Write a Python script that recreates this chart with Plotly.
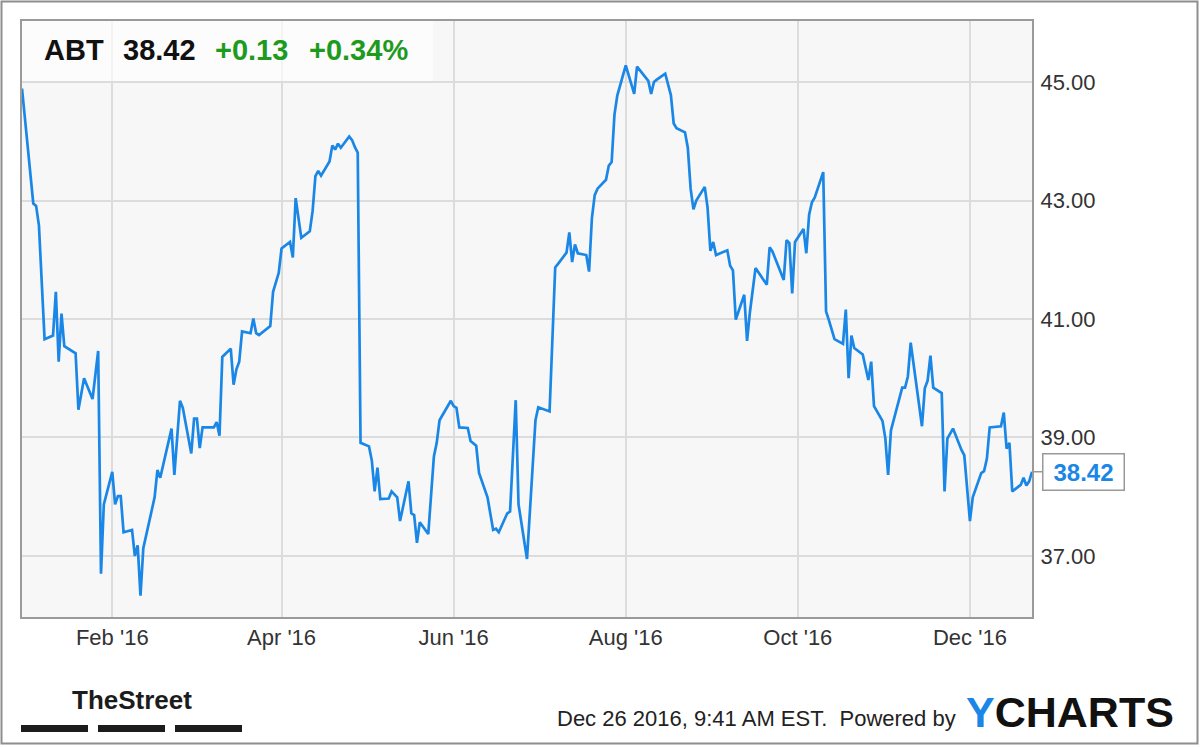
import plotly.graph_objects as go

# ---------------- data ----------------
dates = [
    "2015-12-31", "2016-01-04", "2016-01-05", "2016-01-06", "2016-01-08", "2016-01-11",
    "2016-01-12", "2016-01-13", "2016-01-14", "2016-01-15", "2016-01-19", "2016-01-20",
    "2016-01-22", "2016-01-25", "2016-01-27", "2016-01-28", "2016-01-29", "2016-02-01",
    "2016-02-02", "2016-02-03", "2016-02-04", "2016-02-05", "2016-02-08", "2016-02-09",
    "2016-02-10", "2016-02-11", "2016-02-12", "2016-02-16", "2016-02-17", "2016-02-18",
    "2016-02-22", "2016-02-23", "2016-02-25", "2016-02-26", "2016-02-29", "2016-03-01",
    "2016-03-02", "2016-03-03", "2016-03-04", "2016-03-08", "2016-03-09", "2016-03-10",
    "2016-03-11", "2016-03-14", "2016-03-15", "2016-03-16", "2016-03-17", "2016-03-18",
    "2016-03-21", "2016-03-22", "2016-03-23", "2016-03-24", "2016-03-28", "2016-03-29",
    "2016-03-31", "2016-04-01", "2016-04-04", "2016-04-05", "2016-04-06", "2016-04-08",
    "2016-04-11", "2016-04-12", "2016-04-13", "2016-04-14", "2016-04-15", "2016-04-18",
    "2016-04-19", "2016-04-20", "2016-04-21", "2016-04-22", "2016-04-25", "2016-04-26",
    "2016-04-27", "2016-04-28", "2016-04-29", "2016-05-02", "2016-05-03", "2016-05-04",
    "2016-05-05", "2016-05-06", "2016-05-09", "2016-05-10", "2016-05-12", "2016-05-13",
    "2016-05-16", "2016-05-17", "2016-05-18", "2016-05-19", "2016-05-20", "2016-05-23",
    "2016-05-25", "2016-05-26", "2016-05-27", "2016-05-31", "2016-06-01", "2016-06-02",
    "2016-06-03", "2016-06-06", "2016-06-07", "2016-06-09", "2016-06-10", "2016-06-13",
    "2016-06-15", "2016-06-16", "2016-06-17", "2016-06-20", "2016-06-21", "2016-06-23",
    "2016-06-24", "2016-06-27", "2016-06-30", "2016-07-01", "2016-07-05", "2016-07-06",
    "2016-07-07", "2016-07-08", "2016-07-11", "2016-07-12", "2016-07-13", "2016-07-14",
    "2016-07-15", "2016-07-18", "2016-07-19", "2016-07-20", "2016-07-21", "2016-07-22",
    "2016-07-25", "2016-07-26", "2016-07-27", "2016-07-28", "2016-07-29", "2016-08-01",
    "2016-08-04", "2016-08-05", "2016-08-08", "2016-08-09", "2016-08-10", "2016-08-11",
    "2016-08-12", "2016-08-15", "2016-08-17", "2016-08-18", "2016-08-19", "2016-08-22",
    "2016-08-23", "2016-08-24", "2016-08-25", "2016-08-26", "2016-08-29", "2016-08-30",
    "2016-08-31", "2016-09-01", "2016-09-02", "2016-09-06", "2016-09-07", "2016-09-08",
    "2016-09-09", "2016-09-12", "2016-09-13", "2016-09-14", "2016-09-16", "2016-09-20",
    "2016-09-21", "2016-09-22", "2016-09-26", "2016-09-27", "2016-09-28", "2016-09-29",
    "2016-09-30", "2016-10-03", "2016-10-04", "2016-10-05", "2016-10-06", "2016-10-07",
    "2016-10-10", "2016-10-11", "2016-10-12", "2016-10-13", "2016-10-14", "2016-10-17",
    "2016-10-18", "2016-10-19", "2016-10-20", "2016-10-21", "2016-10-24", "2016-10-26",
    "2016-10-27", "2016-10-28", "2016-10-31", "2016-11-01", "2016-11-02", "2016-11-03",
    "2016-11-07", "2016-11-08", "2016-11-09", "2016-11-10", "2016-11-14", "2016-11-15",
    "2016-11-16", "2016-11-17", "2016-11-18", "2016-11-21", "2016-11-22", "2016-11-23",
    "2016-11-25", "2016-11-28", "2016-11-29", "2016-12-01", "2016-12-02", "2016-12-05",
    "2016-12-06", "2016-12-07", "2016-12-08", "2016-12-12", "2016-12-13", "2016-12-14",
    "2016-12-15", "2016-12-16", "2016-12-19", "2016-12-20", "2016-12-21", "2016-12-22",
    "2016-12-23",
]
prices = [
    44.89, 42.95, 42.91, 42.58, 40.66, 40.72,
    41.46, 40.28, 41.09, 40.54, 40.42, 39.47,
    40.00, 39.65, 40.46, 36.70, 37.87, 38.42,
    37.87, 38.01, 38.01, 37.40, 37.44, 37.00,
    37.18, 36.33, 37.13, 37.99, 38.45, 38.32,
    39.15, 38.37, 39.62, 39.50, 38.73, 39.32,
    39.32, 38.82, 39.17, 39.17, 39.26, 39.03,
    40.36, 40.50, 39.89, 40.15, 40.28, 40.79,
    40.76, 41.01, 40.76, 40.73, 40.88, 41.46,
    41.78, 42.19, 42.30, 42.04, 43.04, 42.37,
    42.48, 42.82, 43.41, 43.50, 43.42, 43.66,
    43.93, 43.86, 43.96, 43.89, 44.08, 44.02,
    43.90, 43.81, 38.91, 38.85, 38.61, 38.09,
    38.49, 37.96, 37.97, 38.09, 37.99, 37.59,
    38.26, 37.72, 37.69, 37.22, 37.57, 37.37,
    38.68, 38.91, 39.29, 39.62, 39.53, 39.50,
    39.17, 39.16, 38.94, 38.86, 38.40, 37.99,
    37.44, 37.46, 37.40, 37.72, 37.75, 39.63,
    37.87, 36.95, 39.29, 39.51, 39.44, 40.80,
    41.87, 41.93, 42.12, 42.46, 41.96, 42.26,
    42.11, 42.08, 41.80, 42.70, 43.09, 43.20,
    43.35, 43.59, 43.65, 44.45, 44.77, 45.28,
    44.80, 45.26, 45.07, 45.02, 44.80, 45.00,
    45.04, 45.14, 44.78, 44.30, 44.22, 44.15,
    43.89, 43.20, 42.85, 43.00, 43.23, 42.88,
    42.15, 42.30, 42.08, 42.16, 41.90, 41.82,
    40.99, 41.41, 40.63, 41.11, 41.86, 41.58,
    42.21, 42.14, 41.66, 42.33, 42.28, 41.43,
    42.30, 42.52, 42.11, 42.76, 42.97, 43.05,
    43.48, 41.13, 40.98, 40.80, 40.66, 40.58,
    41.16, 40.00, 40.72, 40.51, 40.40, 39.97,
    40.28, 39.53, 39.28, 38.99, 38.37, 39.12,
    39.84, 39.84, 40.03, 40.60, 39.19, 39.83,
    39.96, 40.38, 39.84, 39.75, 38.09, 38.98,
    39.15, 38.79, 38.70, 37.59, 37.99, 38.40,
    38.43, 38.64, 39.17, 39.19, 39.42, 38.81,
    38.91, 38.09, 38.20, 38.32, 38.19, 38.26,
    38.42,
]
x_tick_dates = ["2016-02-01", "2016-04-01", "2016-06-01", "2016-08-01", "2016-10-01", "2016-12-01"]
x_tick_labels = ["Feb '16", "Apr '16", "Jun '16", "Aug '16", "Oct '16", "Dec '16"]
y_tick_values = [37, 39, 41, 43, 45]
y_tick_labels = ["37.00", "39.00", "41.00", "43.00", "45.00"]
ticker = "ABT"
last_price = "38.42"
change_abs = "+0.13"
change_pct = "+0.34%"
timestamp_text = "Dec 26 2016, 9:41 AM EST.\u00a0 Powered by"

# ---------------- styling / layout ----------------
W, H = 1200, 747
L, R, T, B = 22, 1032, 21, 617          # plot-area pixel box
BLUE = "#1a87e6"
GREEN = "#1e9b1e"
FONT = "Liberation Sans, Arial, sans-serif"


def px(x):
    return (x - L) / (R - L)


def py(y):
    return (B - y) / (B - T)


fig = go.Figure(
    go.Scatter(x=dates, y=prices, mode="lines",
               line=dict(color=BLUE, width=2.7), hoverinfo="skip")
)

fig.update_layout(
    width=W, height=H,
    margin=dict(l=L, r=W - R, t=T, b=H - B, pad=0),
    paper_bgcolor="white", plot_bgcolor="#f7f7f7",
    showlegend=False,
)
fig.update_xaxes(
    type="date", range=[dates[0], dates[-1]],
    tickmode="array", tickvals=x_tick_dates, ticktext=x_tick_labels,
    showgrid=True, gridcolor="#dcdcdc", gridwidth=1.5,
    showline=True, linecolor="#9a9a9a", linewidth=2, mirror=True,
    ticks="", tickfont=dict(family=FONT, size=22, color="#333333"), zeroline=False,
)
fig.update_yaxes(
    side="right", range=[35.97, 46.03],
    tickmode="array", tickvals=y_tick_values, ticktext=y_tick_labels,
    showgrid=True, gridcolor="#dcdcdc", gridwidth=1.5,
    showline=True, linecolor="#9a9a9a", linewidth=2, mirror=True,
    ticks="outside", ticklen=2, tickcolor="rgba(0,0,0,0)",
    tickfont=dict(family=FONT, size=22, color="#333333"), zeroline=False,
)

shapes = [
    # translucent header box
    dict(type="rect", xref="paper", yref="paper", x0=px(L), x1=px(433), y0=py(81), y1=1,
         fillcolor="rgba(255,255,255,0.65)", line=dict(width=0), layer="above"),
    # outer frame of the image
    dict(type="rect", xref="paper", yref="paper", x0=px(1.5), x1=px(1197.5), y0=py(743.5), y1=py(1.5),
         line=dict(color="#8e8e8e", width=2), fillcolor="rgba(0,0,0,0)"),
]
# TheStreet underline bars
for x0, x1 in [(21, 88), (98, 165), (175, 242)]:
    shapes.append(dict(type="rect", xref="paper", yref="paper", x0=px(x0), x1=px(x1),
                       y0=py(732), y1=py(725), fillcolor="#1c1c1c", line=dict(width=0)))
fig.update_layout(shapes=shapes)

annotations = [
    dict(xref="paper", yref="paper", x=px(42), y=py(50), xanchor="left", yanchor="middle",
         text=f"<b>{ticker}</b>", showarrow=False, font=dict(family=FONT, size=29, color="#111")),
    dict(xref="paper", yref="paper", x=px(121), y=py(50), xanchor="left", yanchor="middle",
         text=f"<b>{last_price}</b>", showarrow=False, font=dict(family=FONT, size=29, color="#111")),
    dict(xref="paper", yref="paper", x=px(213), y=py(50), xanchor="left", yanchor="middle",
         text=f"<b>{change_abs}</b>", showarrow=False, font=dict(family=FONT, size=29, color=GREEN)),
    dict(xref="paper", yref="paper", x=px(307), y=py(50), xanchor="left", yanchor="middle",
         text=f"<b>{change_pct}</b>", showarrow=False, font=dict(family=FONT, size=29, color=GREEN)),
    # last-price callout
    dict(xref="x", yref="y", x=dates[-1], y=prices[-1], text=f"<b>{last_price}</b>",
         showarrow=True, ax=51, ay=0, arrowhead=0, arrowwidth=1.5, arrowcolor="#999",
         bordercolor="#999", borderwidth=1.5, borderpad=4, bgcolor="white",
         width=72, font=dict(family=FONT, size=24, color=BLUE)),
    # footer
    dict(xref="paper", yref="paper", x=px(132), y=py(700), xanchor="center", yanchor="middle",
         text="<b>TheStreet</b>", showarrow=False,
         font=dict(family="Liberation Sans Narrow, Liberation Sans", size=26, color="#1c1c1c")),
    dict(xref="paper", yref="paper", x=px(555), y=py(718), xanchor="left", yanchor="middle",
         text=timestamp_text, showarrow=False, font=dict(family=FONT, size=22, color="#222")),
    dict(xref="paper", yref="paper", x=px(964), y=py(712), xanchor="left", yanchor="middle",
         text=f"<b><span style='color:{BLUE}'>Y</span>CHARTS</b>", showarrow=False,
         font=dict(family=FONT, size=43, color="#111")),
]
fig.update_layout(annotations=annotations)

fig.write_html("out.html", config={"displayModeBar": False},
               post_script="document.body.style.margin='0';")
